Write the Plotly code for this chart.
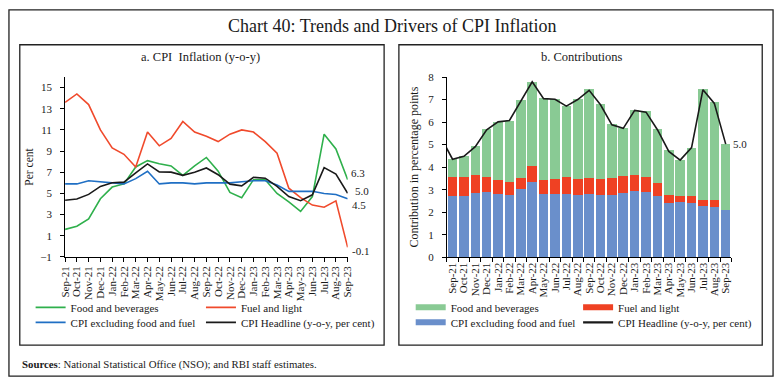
import plotly.graph_objects as go

# ---------------- data ----------------
months = ["Sep-21", "Oct-21", "Nov-21", "Dec-21", "Jan-22", "Feb-22", "Mar-22", "Apr-22",
          "May-22", "Jun-22", "Jul-22", "Aug-22", "Sep-22", "Oct-22", "Nov-22", "Dec-22",
          "Jan-23", "Feb-23", "Mar-23", "Apr-23", "May-23", "Jun-23", "Jul-23", "Aug-23", "Sep-23"]

# Panel a: y-o-y inflation (per cent)
food_bev = [1.6, 1.9, 2.6, 4.5, 5.6, 5.9, 7.5, 8.1, 7.8, 7.6, 6.7, 7.6, 8.4, 7.1,
            5.1, 4.6, 6.3, 6.3, 5.0, 4.2, 3.3, 4.7, 10.6, 9.2, 6.3]
fuel_light = [13.6, 14.4, 13.4, 11.0, 9.3, 8.7, 7.5, 10.8, 9.5, 10.2, 11.8, 10.8, 10.4, 9.9,
              10.6, 11.0, 10.8, 9.9, 8.8, 5.5, 4.6, 3.9, 3.7, 4.3, -0.1]
core_ex = [5.9, 5.9, 6.2, 6.1, 6.0, 5.9, 6.4, 7.1, 5.9, 6.0, 6.0, 5.9, 6.0, 6.0,
           6.0, 6.1, 6.2, 6.2, 5.8, 5.2, 5.2, 5.2, 5.0, 4.9, 4.5]
headline = [4.35, 4.48, 4.91, 5.66, 6.01, 6.07, 6.95, 7.79, 7.04, 7.01, 6.71, 7.00, 7.41, 6.77,
            5.88, 5.72, 6.52, 6.44, 5.66, 4.70, 4.31, 4.87, 7.44, 6.83, 5.02]
headline_prev_month = "Aug-21"
headline_prev_value = 5.30

# Panel b: contributions (percentage points)
contrib_core = [2.72, 2.72, 2.84, 2.88, 2.80, 2.75, 3.03, 3.35, 2.80, 2.80, 2.80, 2.77, 2.81,
                2.78, 2.78, 2.87, 2.94, 2.90, 2.71, 2.41, 2.44, 2.42, 2.28, 2.25, 2.09]
contrib_fuel = [0.84, 0.86, 0.79, 0.66, 0.61, 0.59, 0.47, 0.71, 0.61, 0.67, 0.78, 0.70, 0.69,
                0.69, 0.73, 0.73, 0.72, 0.66, 0.59, 0.37, 0.30, 0.28, 0.26, 0.30, 0.0]
contrib_food = [0.78, 0.91, 1.32, 2.14, 2.61, 2.72, 3.48, 3.74, 3.64, 3.54, 3.13, 3.55, 3.96,
                3.34, 2.40, 2.13, 2.88, 2.91, 2.39, 1.98, 1.56, 2.17, 4.92, 4.32, 2.94]

left_yticks = [-1, 1, 3, 5, 7, 9, 11, 13, 15]
right_yticks = [0, 1, 2, 3, 4, 5, 6, 7, 8]

# ---------------- styling ----------------
W, H = 783, 386
FONT = "Liberation Serif"
INK = "#1a1a1a"
C_FOOD_L, C_FUEL_L, C_CORE_L, C_HEAD = "#2fb04c", "#f04a2c", "#1f6fc4", "#1a1a1a"
C_FOOD_B, C_FUEL_B, C_CORE_B = "#89ca94", "#ef4123", "#6a8fcb"


def px(x):
    return x / W


def py(y):
    return 1 - y / H


fig = go.Figure()

# ---- panel a lines ----
for name, vals, col, leg in [("Food and beverages", food_bev, C_FOOD_L, "legend"),
                             ("Fuel and light", fuel_light, C_FUEL_L, "legend2"),
                             ("CPI excluding food and fuel", core_ex, C_CORE_L, "legend3"),
                             ("CPI Headline (y-o-y, per cent)", headline, C_HEAD, "legend4")]:
    fig.add_trace(go.Scatter(x=months, y=vals, mode="lines", name=name,
                             line=dict(color=col, width=1.6),
                             xaxis="x", yaxis="y", legend=leg, hoverinfo="x+y+name"))

# ---- panel b bars ----
for name, vals, col in [("CPI excluding food and fuel", contrib_core, C_CORE_B),
                        ("Fuel and light", contrib_fuel, C_FUEL_B),
                        ("Food and beverages", contrib_food, C_FOOD_B)]:
    fig.add_trace(go.Bar(x=months, y=vals, name=name, marker=dict(color=col, line=dict(width=0)),
                         xaxis="x2", yaxis="y2", showlegend=False, width=0.84))

fig.add_trace(go.Scatter(x=[headline_prev_month] + months, y=[headline_prev_value] + headline,
                         mode="lines", name="CPI Headline (y-o-y, per cent)",
                         line=dict(color=C_HEAD, width=1.6), xaxis="x2", yaxis="y2",
                         showlegend=False))

# legend-only entries for panel b (wide swatches like the original)
for name, col, leg, w in [("Food and beverages", C_FOOD_B, "legend5", 6),
                          ("Fuel and light", C_FUEL_B, "legend6", 6),
                          ("CPI excluding food and fuel", C_CORE_B, "legend7", 6),
                          ("CPI Headline (y-o-y, per cent)", C_HEAD, "legend8", 2.2)]:
    fig.add_trace(go.Scatter(x=[None], y=[None], mode="lines", name=name,
                             line=dict(color=col, width=w), xaxis="x2", yaxis="y2", legend=leg))

# ---- axes ----
tickfont = dict(family=FONT, size=11, color=INK)
common_x = dict(type="category", showline=True, linecolor="#000", linewidth=1, ticks="outside",
                ticklen=4, tickcolor="#000", tickangle=-90, tickfont=tickfont, showgrid=False,
                zeroline=False, fixedrange=True, tickmode="linear", dtick=1)
common_y = dict(showline=True, linecolor="#000", linewidth=1, ticks="outside", ticklen=4,
                tickcolor="#000", tickfont=tickfont, showgrid=False, zeroline=False,
                fixedrange=True, ticklabelstandoff=6)

fig.update_layout(
    xaxis=dict(common_x, domain=[px(60), px(347)], anchor="y", range=[0, len(months) - 1],
               categoryorder="array", categoryarray=months),
    yaxis=dict(common_y, domain=[py(259), py(73.3)], anchor="x", range=[-1, 16],
               tickvals=left_yticks,
               title=dict(text="Per cent", font=dict(family=FONT, size=11.5, color=INK),
                          standoff=4)),
    xaxis2=dict(common_x, domain=[px(447.7), px(736.7)], anchor="y2",
                range=[0.5, len(months) + 0.5], tickson="boundaries",
                categoryorder="array", categoryarray=[headline_prev_month] + months),
    yaxis2=dict(common_y, domain=[py(259.3), py(73.3)], anchor="x2", range=[0, 8],
                tickvals=right_yticks,
                title=dict(text="Contribution in percentage points",
                           font=dict(family=FONT, size=12, color=INK), standoff=6)),
)

# ---- legends (one per entry, laid out in two columns under each panel) ----
legfont = dict(family=FONT, size=11, color=INK)


def leg(x, y):
    return dict(orientation="h", x=px(x), y=py(y), xanchor="left", yanchor="middle",
                font=legfont, bgcolor="rgba(0,0,0,0)", borderwidth=0,
                itemclick=False, itemdoubleclick=False)


fig.update_layout(
    legend=leg(25, 311), legend2=leg(198, 311),
    legend3=leg(25, 326.5), legend4=leg(198, 326.5),
    legend5=leg(411, 311), legend6=leg(581, 311),
    legend7=leg(411, 326.5), legend8=leg(581, 326.5),
)

# ---- frames, titles, notes ----
shapes = [
    dict(type="rect", xref="paper", yref="paper", x0=px(3), x1=px(779), y0=py(382), y1=py(4),
         line=dict(color="#222", width=1.3)),
    dict(type="rect", xref="paper", yref="paper", x0=px(14), x1=px(384), y0=py(350), y1=py(40),
         line=dict(color="#222", width=1.3)),
    dict(type="rect", xref="paper", yref="paper", x0=px(399), x1=px(768), y0=py(350), y1=py(40),
         line=dict(color="#222", width=1.3)),
]
ann = [
    dict(text="Chart 40: Trends and Drivers of CPI Inflation", x=0.5, y=py(21), xref="paper",
         yref="paper", showarrow=False, xanchor="center", yanchor="middle",
         font=dict(family=FONT, size=18, color=INK)),
    dict(text="a. CPI  Inflation (y-o-y)", x=px(198), y=py(53), xref="paper", yref="paper",
         showarrow=False, xanchor="center", yanchor="middle",
         font=dict(family=FONT, size=12.5, color=INK)),
    dict(text="b. Contributions", x=px(584), y=py(53), xref="paper", yref="paper",
         showarrow=False, xanchor="center", yanchor="middle",
         font=dict(family=FONT, size=12.5, color=INK)),
    dict(text="<b>Sources</b>: National Statistical Office (NSO); and RBI staff estimates.",
         x=px(14), y=py(370), xref="paper", yref="paper", showarrow=False, xanchor="left",
         yanchor="middle", font=dict(family=FONT, size=10.8, color=INK)),
]
# end-of-series value labels
lab = dict(xref="x", yref="y", showarrow=False, xanchor="left", yanchor="middle",
           font=dict(family=FONT, size=11, color=INK))
ann += [
    dict(lab, x=months[-1], y=food_bev[-1], text=f"{food_bev[-1]:.1f}", xshift=1, yshift=7),
    dict(lab, x=months[-1], y=headline[-1], text=f"{headline[-1]:.1f}", xshift=5, yshift=2),
    dict(lab, x=months[-1], y=core_ex[-1], text=f"{core_ex[-1]:.1f}", xshift=2, yshift=-6),
    dict(lab, x=months[-1], y=fuel_light[-1], text=f"{fuel_light[-1]:.1f}", xshift=2, yshift=-4),
    dict(lab, x=months[-1], y=headline[-1], text=f"{headline[-1]:.1f}", xref="x2", yref="y2",
         xshift=5, yshift=0),
]

fig.update_layout(
    width=W, height=H, autosize=False, margin=dict(l=0, r=0, t=0, b=0),
    paper_bgcolor="white", plot_bgcolor="white", barmode="stack", bargap=0.16,
    shapes=shapes, annotations=ann, font=dict(family=FONT, color=INK),
    showlegend=True,
)

fig.write_html("out.html", config={"displayModeBar": False},
               post_script="document.body.style.margin='0px';")
